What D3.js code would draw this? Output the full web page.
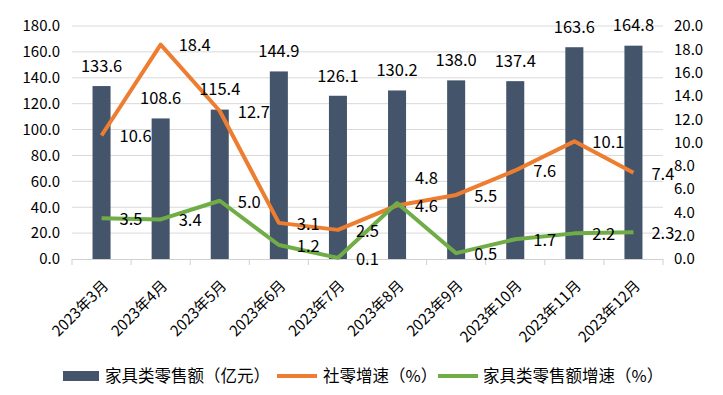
<!DOCTYPE html>
<html>
<head>
<meta charset="utf-8">
<script src="https://cdn.jsdelivr.net/npm/d3@7"></script>
<style>
  body { margin: 0; background: #fff; }
  text { font-family: "Noto Sans CJK SC", "Noto Sans", sans-serif; fill: #000; }
</style>
</head>
<body>
<div id="chart"></div>
<script>
// data
var months = ['2023年3月', '2023年4月', '2023年5月', '2023年6月', '2023年7月',
              '2023年8月', '2023年9月', '2023年10月', '2023年11月', '2023年12月'];
var salesAmount = [133.6, 108.6, 115.4, 144.9, 126.1, 130.2, 138.0, 137.4, 163.6, 164.8];
var retailGrowth = [10.6, 18.4, 12.7, 3.1, 2.5, 4.6, 5.5, 7.6, 10.1, 7.4];
var furnitureGrowth = [3.5, 3.4, 5.0, 1.2, 0.1, 4.8, 0.5, 1.7, 2.2, 2.3];
var leftTicks = [0, 20, 40, 60, 80, 100, 120, 140, 160, 180];
var rightTicks = [0, 2, 4, 6, 8, 10, 12, 14, 16, 18, 20];
var legendNames = ['家具类零售额（亿元）', '社零增速（%）', '家具类零售额增速（%）'];

var width = 723, height = 395;
var margin = { top: 26, left: 72, right: 60, bottom: 136 };
var colors = { bar: '#44546A', retail: '#ED7D31', furniture: '#70AD47' };

var svg = d3.select('#chart').append('svg')
    .attr('width', width)
    .attr('height', height);

var x = d3.scaleBand().domain(months)
    .range([margin.left, width - margin.right])
    .paddingInner(0.695).paddingOuter(0.3475);
var xb = d3.scaleBand().domain(months).range([margin.left, width - margin.right]);
var yL = d3.scaleLinear().domain([0, 180]).range([height - margin.bottom, margin.top]);
var yR = d3.scaleLinear().domain([0, 20]).range([height - margin.bottom, margin.top]);

// gridlines
svg.append('g').selectAll('line')
    .data(leftTicks.slice(1))
    .enter().append('line')
        .attr('x1', margin.left).attr('x2', width - margin.right)
        .attr('y1', function(d){ return yL(d) }).attr('y2', function(d){ return yL(d) })
        .attr('stroke', '#d9d9d9').attr('stroke-width', 1);

// left axis labels
var leftAxis = d3.axisLeft(yL).tickValues(leftTicks).tickSize(0).tickPadding(12)
    .tickFormat(function(d){ return d.toFixed(1) });
svg.append('g').attr('class', 'axis yl')
    .attr('transform', 'translate(' + margin.left + ',0)')
    .call(leftAxis)
    .call(function(g){ g.select('.domain').remove() });

// right axis labels
var rightAxis = d3.axisRight(yR).tickValues(rightTicks).tickSize(0).tickPadding(11)
    .tickFormat(function(d){ return d.toFixed(1) });
svg.append('g').attr('class', 'axis yr')
    .attr('transform', 'translate(' + (width - margin.right) + ',0)')
    .call(rightAxis)
    .call(function(g){ g.select('.domain').remove() });

svg.selectAll('.axis text').style('font-size', '15px');

// bars
svg.append('g').selectAll('rect')
    .data(salesAmount)
    .enter().append('rect')
        .attr('x', function(d, i){ return x(months[i]) })
        .attr('y', function(d){ return yL(d) })
        .attr('width', x.bandwidth())
        .attr('height', function(d){ return yL(0) - yL(d) })
        .attr('fill', colors.bar);

// x axis line + ticks at band edges
var baseY = yL(0);
svg.append('line')
    .attr('x1', margin.left).attr('x2', width - margin.right)
    .attr('y1', baseY + 0.5).attr('y2', baseY + 0.5)
    .attr('stroke', '#d0d0d0');
var edges = months.map(function(m){ return xb(m) }).concat([width - margin.right]);
svg.append('g').selectAll('line')
    .data(edges)
    .enter().append('line')
        .attr('x1', function(d){ return d }).attr('x2', function(d){ return d })
        .attr('y1', baseY).attr('y2', baseY + 6)
        .attr('stroke', '#d0d0d0');

// x labels rotated
var cx = function(m){ return x(m) + x.bandwidth() / 2 };
svg.append('g').selectAll('text')
    .data(months)
    .enter().append('text')
        .attr('transform', function(d){ return 'translate(' + (cx(d) + 4) + ',' + (baseY + 24) + ') rotate(-45)' })
        .attr('text-anchor', 'end')
        .attr('dy', '0.35em')
        .style('font-size', '15px')
        .text(function(d){ return d });

// lines
var lineGen = d3.line()
    .x(function(d, i){ return cx(months[i]) })
    .y(function(d){ return yR(d) });

svg.append('path').datum(retailGrowth)
    .attr('d', lineGen).attr('fill', 'none')
    .attr('stroke', colors.retail).attr('stroke-width', 4)
    .attr('stroke-linejoin', 'round');
svg.append('path').datum(furnitureGrowth)
    .attr('d', lineGen).attr('fill', 'none')
    .attr('stroke', colors.furniture).attr('stroke-width', 4)
    .attr('stroke-linejoin', 'round');

// bar value labels
svg.append('g').selectAll('text')
    .data(salesAmount)
    .enter().append('text')
        .attr('x', function(d, i){ return cx(months[i]) })
        .attr('y', function(d){ return yL(d) - 20 })
        .attr('dy', '0.35em')
        .attr('text-anchor', 'middle')
        .style('font-size', '16.5px')
        .text(function(d){ return d.toFixed(1) });

// line value labels, right of the point
function pointLabels(values, nudge){
    svg.append('g').selectAll('text')
        .data(values)
        .enter().append('text')
            .attr('x', function(d, i){ return cx(months[i]) + 18 })
            .attr('y', function(d, i){ return yR(d) + 1 + (nudge[i] || 0) })
            .attr('dy', '0.35em')
            .style('font-size', '16.5px')
            .text(function(d){ return d.toFixed(1) });
}
pointLabels(retailGrowth, {});
pointLabels(furnitureGrowth, { 5: -26 });

// legend
var legendY = 376;
var lg = svg.append('g');
lg.append('rect').attr('x', 63).attr('y', legendY - 5).attr('width', 36).attr('height', 10).attr('fill', colors.bar);
lg.append('text').attr('x', 105).attr('y', legendY).attr('dy', '0.35em').style('font-size', '16.5px').text(legendNames[0]);
lg.append('line').attr('x1', 277).attr('x2', 317).attr('y1', legendY).attr('y2', legendY)
    .attr('stroke', colors.retail).attr('stroke-width', 4);
lg.append('text').attr('x', 323).attr('y', legendY).attr('dy', '0.35em').style('font-size', '16.5px').text(legendNames[1]);
lg.append('line').attr('x1', 438).attr('x2', 478).attr('y1', legendY).attr('y2', legendY)
    .attr('stroke', colors.furniture).attr('stroke-width', 4);
lg.append('text').attr('x', 483).attr('y', legendY).attr('dy', '0.35em').style('font-size', '16.5px').text(legendNames[2]);
</script>
</body>
</html>
